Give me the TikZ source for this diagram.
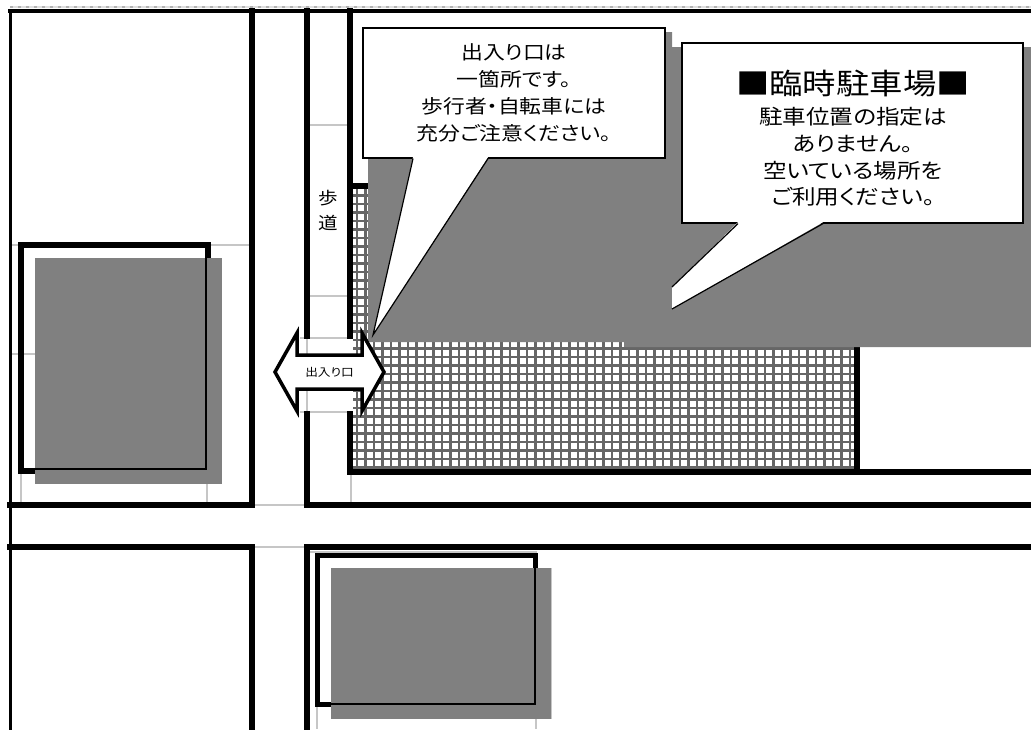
\documentclass[tikz,border=0pt]{standalone}
\usepackage{fontspec}
\newfontfamily\jpfont[FakeStretch=1.15,RawFeature={+palt}]{Noto Sans CJK JP}
\usetikzlibrary{positioning}
\definecolor{shadegray}{gray}{0.5}
\tikzset{x=1pt, y=-1pt,
wall/.style={line width=6pt, line cap=rect}, % thick outlines of the blocks
cellline/.style={gray!45, line width=1.5pt}, % faint sheet lines
hatch/.style={black!60, line width=2.2pt},
balloon/.style={fill=white, draw=black, line width=1.2pt},
note/.style={font=\jpfont\fontsize{19}{27}\selectfont, align=center},
gatearrow/.style={fill=white, draw=black, line width=3.5pt, line join=miter}}
\begin{document}
\begin{tikzpicture}
	\useasboundingbox[fill=white] (0,0) rectangle (1031,729);
	\draw[gray!25, line width=1.5pt] (10,7) -- (1031,7);
	\draw[gray!60, line width=1.5pt, dash pattern=on 3pt off 5pt] (10,7) -- (1031,7);
	% sheet lines
	\draw[cellline] (10,245) -- (21,245) (208,245) -- (252,245) (10,354) -- (35,354);
	\draw[cellline] (21,471) -- (21,505) (207,484) -- (207,505);
	\draw[cellline] (307,125) -- (350,125) (307,296) -- (350,296);
	\draw[cellline] (300,338) -- (350,338) (300,412) -- (350,412) (307,338) -- (307,412);
	\draw[cellline] (351,472) -- (351,505) (252,505) -- (307,505) (252,547) -- (307,547);
	\draw[cellline] (310,552) -- (537,552) (317,704) -- (317,729) (536,719) -- (536,729) (551,568) -- (551,719);
	% parking
	\draw[hatch, step=8.5pt] (353,468) grid (855,188);
	% blocks
	\draw[wall, line width=3pt] (10,11) -- (10,729);
	\draw[wall, line width=3.5pt] (10,11) -- (1031,11);
	\draw[wall] (252,11) -- (252,505) -- (10,505);
	\draw[wall] (10,547) -- (252,547) -- (252,729);
	\draw[wall] (307,11) -- (307,336);
	\draw[wall] (307,414) -- (307,505) -- (1031,505);
	\draw[wall] (1031,547) -- (307,547) -- (307,729);
	\draw[wall] (350,11) -- (350,336);
	\draw[wall] (350,414) -- (350,472) -- (1031,472);
	\draw[wall] (350,186) -- (700,186);
	\draw[wall] (857,345) -- (857,472);
	% buildings
	\draw[wall, line width=5.5pt] (21,245) rectangle (208,471);
	\fill[shadegray] (35,258) rectangle (222,484);
	\draw[line width=1.2pt] (206,258) -- (206,469) -- (35,469);
	\draw[wall, line width=5pt] (317,555) rectangle (535,704);
	\fill[shadegray] (331,568) rectangle (551,719);
	\draw[line width=1.2pt] (535,568) -- (535,704) -- (331,704);
	% shadow of the balloons
	\fill[shadegray] (368,32) -- (672,32) -- (672,47) -- (1031,47) -- (1031,347) -- (624,347) -- (624,342) -- (368,342) -- cycle;
	\node[font=\jpfont\fontsize{17}{25}\selectfont, align=center] (walk) at (328,210) {歩\\道};
	% entrance
	\draw[gatearrow] (275,372) -- (297,333) -- (297,355) -- (362,355) -- (362,333) -- (384,372) -- (362,411) -- (362,389) -- (297,389) -- (297,411) -- cycle;
	\node[font=\jpfont\fontsize{11}{11}\selectfont] (gate) at (329.5,372) {出入り口};
	% balloon 1
	\node[balloon, note, minimum width=302pt, minimum height=130pt] (note1) at (514,93) {出入り口は\\一箇所です。\\歩行者・自転車には\\充分ご注意ください。};
	\coordinate (tip1) at (373,335);
	\fill[white] ([xshift=-101pt,yshift=1.4pt]note1.south) -- (tip1) -- ([xshift=-26pt,yshift=1.4pt]note1.south) -- cycle;
	\draw[line width=1.2pt] ([xshift=-101pt]note1.south) -- (tip1) -- ([xshift=-26pt]note1.south);
	% balloon 2
	\node[balloon, minimum width=341pt, minimum height=180pt] (note2) at (852.5,133) {};
	\coordinate (tip2a) at (672,287);
	\coordinate (tip2b) at (672,309);
	\fill[white] ([xshift=-114.5pt,yshift=1.4pt]note2.south) -- (tip2a) -- (tip2b) -- ([xshift=-29.5pt,yshift=1.4pt]note2.south) -- cycle;
	\draw[line width=1.2pt] ([xshift=-114.5pt]note2.south) -- (tip2a);
	\draw[line width=1.2pt] ([xshift=-29.5pt]note2.south) -- (tip2b);
	\node[font=\jpfont\fontsize{29}{29}\selectfont] (title2) at (853,83) {■臨時駐車場■};
	\node[note, font=\jpfont\fontsize{20.5}{26.7}\selectfont] (body2) at (853,157) {駐車位置の指定は\\ありません。\\空いている場所を\\ご利用ください。};
\end{tikzpicture}
\end{document}
